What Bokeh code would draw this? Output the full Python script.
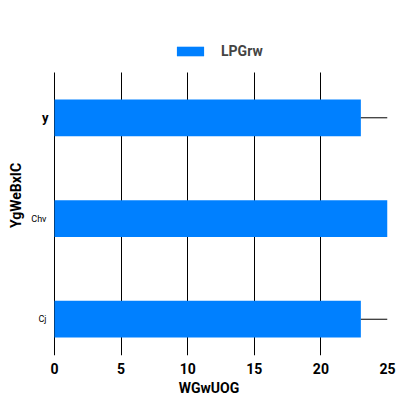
from bokeh.plotting import figure
from bokeh.models import ColumnDataSource, FixedTicker, Legend, LegendItem, Label, Range1d
from bokeh.embed import file_html
from bokeh.resources import INLINE

categories = ["Cj", "Chv", "y"]
cat_pos = [0, 1, 2]
values = [23, 25, 23]
upper = [25, 25, 25]
cat_font_sizes = ["9px", "9px", "13px"]
cat_font_styles = ["normal", "normal", "bold"]
x_ticks = [0, 5, 10, 15, 20, 25]
grid_ticks = [0, 5, 10, 15, 20]
series_name = "LPGrw"
x_title = "WGwUOG"
y_title = "YgWeBxIC"

FONT = "Roboto"

src = ColumnDataSource(dict(y=cat_pos, v=values, up=upper, z=[0] * len(values)))

p = figure(width=408, height=408, output_backend="svg", toolbar_location=None,
           x_range=Range1d(-1.8, 25), y_range=Range1d(-0.36, 2.817),
           min_border_left=30, min_border_right=21, min_border_top=35, min_border_bottom=53)
p.outline_line_color = None
p.background_fill_color = "white"

bars = p.hbar(y="y", left="z", right="v", height=0.365, source=src,
              fill_color="#0080ff", line_color=None)
p.segment(x0="v", y0="y", x1="up", y1="y", source=src, line_color="black", line_width=1)

p.xaxis.ticker = FixedTicker(ticks=x_ticks)
p.xgrid.ticker = FixedTicker(ticks=grid_ticks)
p.xgrid.grid_line_color = "black"
p.xgrid.grid_line_width = 1
p.xgrid.cross_bounds = (-0.36, 2.45)
p.ygrid.grid_line_color = None

for ax in (p.xaxis, p.yaxis):
    ax.axis_line_color = None
    ax.major_tick_line_color = None
    ax.minor_tick_line_color = None
    ax.axis_label_text_font = FONT
    ax.axis_label_text_font_style = "bold"
    ax.axis_label_text_font_size = "14px"
    ax.axis_label_text_color = "black"
    ax.major_label_text_font = FONT
    ax.major_label_text_font_style = "bold"
    ax.major_label_text_font_size = "14px"
    ax.major_label_text_color = "black"

p.xaxis.axis_label = x_title
p.xaxis.major_label_standoff = 1
p.xaxis.axis_label_standoff = 3
p.yaxis.axis_label = y_title
p.yaxis.ticker = FixedTicker(ticks=cat_pos)
p.yaxis.major_label_overrides = {0: " ", 1: " ", 2: " "}
p.yaxis.major_label_text_font_size = "1px"
p.yaxis.major_label_standoff = 0
p.yaxis.major_tick_out = 0
p.yaxis.major_tick_in = 0
p.yaxis.minor_tick_out = 0
p.yaxis.axis_label_standoff = 3

offsets = [-8, -8, -6]
for c, yy, fs, st, off in zip(categories, cat_pos, cat_font_sizes, cat_font_styles, offsets):
    p.add_layout(Label(x=0, y=yy, text=c, x_offset=off, text_align="right",
                       text_baseline="middle", text_font=FONT, text_font_size=fs,
                       text_font_style=st, text_color="black"))

legend = Legend(items=[LegendItem(label=series_name, renderers=[bars])],
                orientation="horizontal", location=(143, 296),
                glyph_width=34, glyph_height=12, label_standoff=14,
                label_text_font=FONT, label_text_font_style="bold",
                label_text_font_size="14px", border_line_color=None,
                background_fill_alpha=0, padding=0, margin=0)
p.add_layout(legend, "center")

open("out.html", "w").write(file_html(p, INLINE))
